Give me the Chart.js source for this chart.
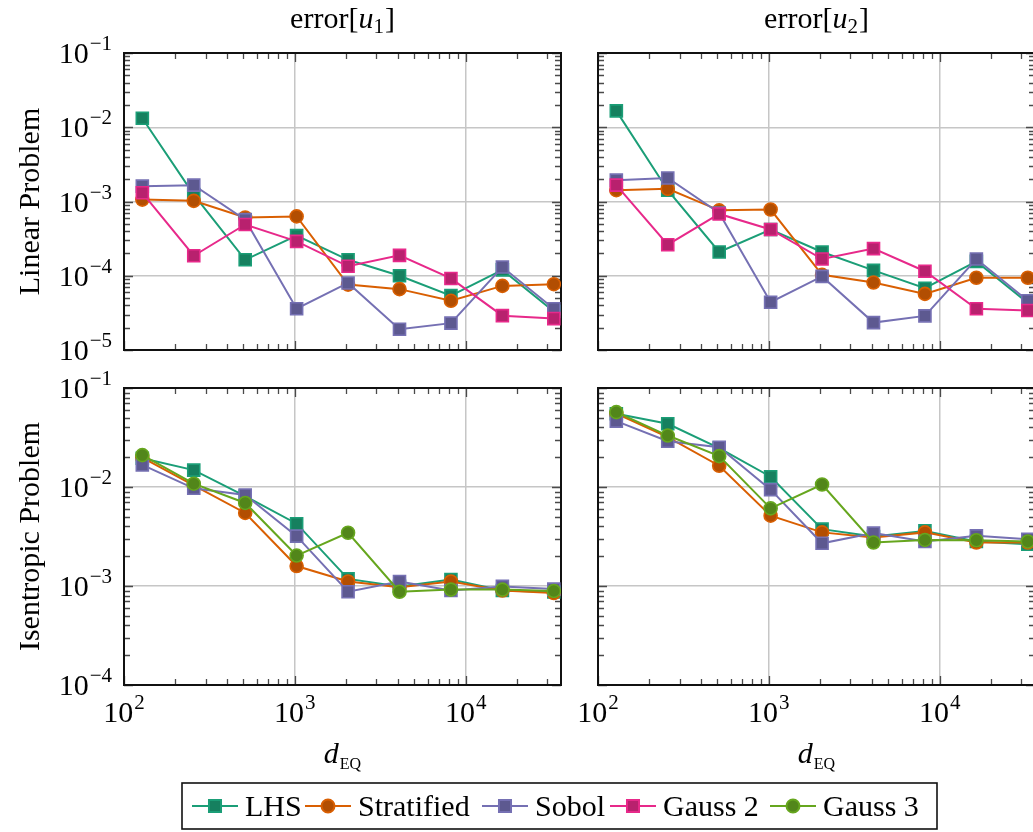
<!DOCTYPE html>
<html>
<head>
<meta charset="utf-8">
<script src="https://cdn.jsdelivr.net/npm/chart.js@4.4.1/dist/chart.umd.min.js"></script>
<style>
  html, body { margin: 0; padding: 0; background: #fff; overflow: hidden; }
  #wrap { position: relative; width: 1040px; height: 832px; }
  #wrap canvas { position: absolute; left: 0; top: 0; width: 1040px; height: 832px; }
</style>
</head>
<body>
<div id="wrap">
<canvas id="c0" width="1040" height="832"></canvas>
<canvas id="c1" width="1040" height="832"></canvas>
<canvas id="c2" width="1040" height="832"></canvas>
<canvas id="c3" width="1040" height="832"></canvas>
</div>
<script>
// number of equations d_EQ (x axis)
const dEq = [128, 256, 512, 1024, 2048, 4096, 8192, 16384, 32768];

// Linear problem, error[u1]
const lhsLinU1 = [1.32e-2, 1.24e-3, 1.64e-4, 3.47e-4, 1.64e-4, 1.0e-4, 5.4e-5, 1.2e-4, 3.3e-5];
const stratLinU1 = [1.06e-3, 1.02e-3, 6.1e-4, 6.3e-4, 7.6e-5, 6.6e-5, 4.6e-5, 7.3e-5, 7.7e-5];
const sobolLinU1 = [1.61e-3, 1.66e-3, 5.7e-4, 3.6e-5, 8.0e-5, 1.9e-5, 2.3e-5, 1.31e-4, 3.6e-5];
const gauss2LinU1 = [1.31e-3, 1.86e-4, 4.9e-4, 2.9e-4, 1.34e-4, 1.88e-4, 9.2e-5, 2.9e-5, 2.65e-5];

// Linear problem, error[u2]
const lhsLinU2 = [1.66e-2, 1.42e-3, 2.09e-4, 4.2e-4, 2.09e-4, 1.18e-4, 6.8e-5, 1.56e-4, 4.3e-5];
const stratLinU2 = [1.42e-3, 1.48e-3, 7.6e-4, 7.8e-4, 1.03e-4, 8.1e-5, 5.7e-5, 9.4e-5, 9.4e-5];
const sobolLinU2 = [1.94e-3, 2.07e-3, 7.0e-4, 4.4e-5, 9.8e-5, 2.34e-5, 2.88e-5, 1.68e-4, 4.6e-5];
const gauss2LinU2 = [1.66e-3, 2.62e-4, 6.8e-4, 4.2e-4, 1.68e-4, 2.32e-4, 1.15e-4, 3.6e-5, 3.4e-5];

// Isentropic problem, error[u1]
const lhsIseU1 = [1.95e-2, 1.48e-2, 8.1e-3, 4.26e-3, 1.18e-3, 9.9e-4, 1.16e-3, 9.0e-4, 8.7e-4];
const stratIseU1 = [1.98e-2, 1.04e-2, 5.47e-3, 1.59e-3, 1.11e-3, 9.7e-4, 1.11e-3, 9.0e-4, 8.5e-4];
const sobolIseU1 = [1.67e-2, 9.7e-3, 8.3e-3, 3.19e-3, 8.75e-4, 1.11e-3, 9.0e-4, 9.9e-4, 9.3e-4];
const gauss3IseU1 = [2.1e-2, 1.08e-2, 6.9e-3, 2.03e-3, 3.45e-3, 8.75e-4, 9.2e-4, 9.2e-4, 8.9e-4];

// Isentropic problem, error[u2]
const lhsIseU2 = [5.5e-2, 4.35e-2, 2.47e-2, 1.27e-2, 3.75e-3, 3.16e-3, 3.6e-3, 2.82e-3, 2.64e-3];
const stratIseU2 = [5.5e-2, 3.19e-2, 1.64e-2, 5.13e-3, 3.48e-3, 3.09e-3, 3.48e-3, 2.75e-3, 2.75e-3];
const sobolIseU2 = [4.63e-2, 2.9e-2, 2.52e-2, 9.4e-3, 2.7e-3, 3.42e-3, 2.82e-3, 3.21e-3, 2.97e-3];
const gauss3IseU2 = [5.7e-2, 3.31e-2, 2.05e-2, 6.08e-3, 1.06e-2, 2.75e-3, 2.92e-3, 2.9e-3, 2.82e-3];

const xRange = [100, 36100];
const yRangeLinear = [1e-5, 1e-1];
const yRangeIsentropic = [1e-4, 1e-1];

const legendNames = ["LHS", "Stratified", "Sobol", "Gauss 2", "Gauss 3"];

const seriesStyles = {
  "LHS": { color: "#1b9e77", fill: "#16805f", shape: "rect" },
  "Stratified": { color: "#d95f02", fill: "#b24e02", shape: "circle" },
  "Sobol": { color: "#7570b3", fill: "#5d5990", shape: "rect" },
  "Gauss 2": { color: "#e7298a", fill: "#b8216e", shape: "rect" },
  "Gauss 3": { color: "#66a61e", fill: "#52861a", shape: "circle" },
};

const fontFamily = '"Liberation Serif", "Times New Roman", serif';
const gridColor = "#c6c6c6";
const canvasW = 1040;
const canvasH = 832;

function isMajor(v) {
  const l = Math.log10(v);
  return Math.abs(l - Math.round(l)) < 1e-6;
}

function logTicks(min, max) {
  const out = [];
  for (let e = Math.floor(Math.log10(min)); e <= Math.ceil(Math.log10(max)); e++) {
    for (let m = 1; m < 10; m++) {
      const v = m * Math.pow(10, e);
      if (v >= min * 0.9999 && v <= max * 1.0001) out.push(v);
    }
  }
  return out;
}

function drawRich(ctx, parts, x, baseline, align) {
  let total = 0;
  parts.forEach((p) => { ctx.font = p.font; p.w = ctx.measureText(p.text).width; total += p.w + (p.gap || 0); });
  let cx = align === "right" ? x - total : x - total / 2;
  ctx.textAlign = "left";
  ctx.textBaseline = "alphabetic";
  parts.forEach((p) => {
    ctx.font = p.font;
    ctx.fillText(p.text, cx + (p.gap || 0), baseline + (p.dy || 0));
    cx += p.w + (p.gap || 0);
  });
}

function powerParts(exp) {
  const sup = exp < 0 ? "\u2212" + (-exp) : String(exp);
  return [
    { text: "10", font: `30px ${fontFamily}` },
    { text: sup, font: `21px ${fontFamily}`, dy: -13, gap: 1 },
  ];
}

// frame and inward ticks, drawn under the data
const frameTicks = {
  id: "frameTicks",
  beforeDatasetsDraw(chart) {
    const { ctx, chartArea: a, scales: { x, y } } = chart;
    ctx.save();
    ctx.strokeStyle = "#4a4a4a";
    ctx.lineWidth = 1.3;
    ctx.beginPath();
    x.ticks.forEach((t) => {
      const px = Math.round(x.getPixelForValue(t.value)) + 0.5;
      const len = isMajor(t.value) ? 9 : 6;
      ctx.moveTo(px, a.top); ctx.lineTo(px, a.top + len);
      ctx.moveTo(px, a.bottom); ctx.lineTo(px, a.bottom - len);
    });
    y.ticks.forEach((t) => {
      const py = Math.round(y.getPixelForValue(t.value)) + 0.5;
      const len = isMajor(t.value) ? 9 : 6;
      ctx.moveTo(a.left, py); ctx.lineTo(a.left + len, py);
      ctx.moveTo(a.right, py); ctx.lineTo(a.right - len, py);
    });
    ctx.stroke();
    ctx.strokeStyle = "#111";
    ctx.lineWidth = 2;
    ctx.strokeRect(a.left, a.top, a.right - a.left, a.bottom - a.top);
    ctx.restore();
  },
};

// tick labels and titles
const panelText = {
  id: "panelText",
  afterDraw(chart, args, opts) {
    const { ctx, chartArea: a, scales: { x, y } } = chart;
    const cx = (a.left + a.right) / 2;
    ctx.save();
    ctx.fillStyle = "#000";
    if (opts.yLabels) {
      y.ticks.filter((t) => isMajor(t.value)).forEach((t) => {
        const py = y.getPixelForValue(t.value);
        drawRich(ctx, powerParts(Math.round(Math.log10(t.value))), a.left - 12, py + 10, "right");
      });
    }
    if (opts.xLabels) {
      x.ticks.filter((t) => isMajor(t.value)).forEach((t) => {
        const px = x.getPixelForValue(t.value);
        drawRich(ctx, powerParts(Math.round(Math.log10(t.value))), px, a.bottom + 37, "center");
      });
      drawRich(ctx, [
        { text: "d", font: `italic 30px ${fontFamily}` },
        { text: "EQ", font: `16px ${fontFamily}`, dy: 6, gap: 1 },
      ], cx, a.bottom + 78, "center");
    }
    if (opts.title) {
      drawRich(ctx, [
        { text: "error[", font: `30px ${fontFamily}` },
        { text: "u", font: `italic 30px ${fontFamily}` },
        { text: opts.title, font: `21px ${fontFamily}`, dy: 5 },
        { text: "]", font: `30px ${fontFamily}`, gap: 1 },
      ], cx, 28, "center");
    }
    if (opts.yTitle) {
      ctx.translate(31, (a.top + a.bottom) / 2);
      ctx.rotate(-Math.PI / 2);
      ctx.font = `30px ${fontFamily}`;
      ctx.textAlign = "center";
      ctx.textBaseline = "middle";
      ctx.fillText(opts.yTitle, 0, 0);
    }
    ctx.restore();
  },
};

// legend box below the panels
const legendBox = {
  id: "legendBox",
  afterDraw(chart) {
    const { ctx } = chart;
    const box = { left: 182, top: 783, right: 937, bottom: 829 };
    const sampleX = [192, 305, 482, 610, 770];
    const midY = (box.top + box.bottom) / 2;
    ctx.save();
    ctx.fillStyle = "#fff";
    ctx.fillRect(box.left, box.top, box.right - box.left, box.bottom - box.top);
    ctx.strokeStyle = "#111";
    ctx.lineWidth = 1.6;
    ctx.strokeRect(box.left, box.top, box.right - box.left, box.bottom - box.top);
    legendNames.forEach((name, i) => {
      const s = seriesStyles[name];
      const x0 = sampleX[i];
      ctx.strokeStyle = s.color;
      ctx.lineWidth = 2;
      ctx.beginPath();
      ctx.moveTo(x0, midY);
      ctx.lineTo(x0 + 46, midY);
      ctx.stroke();
      ctx.fillStyle = s.fill;
      ctx.strokeStyle = s.color;
      Chart.helpers.drawPoint(ctx, {
        pointStyle: s.shape,
        radius: s.shape === "rect" ? 8.5 : 6.5,
        borderWidth: 1.6,
        rotation: 0,
      }, x0 + 23, midY);
      ctx.fillStyle = "#000";
      ctx.font = `30px ${fontFamily}`;
      ctx.textAlign = "left";
      ctx.textBaseline = "alphabetic";
      ctx.fillText(name, x0 + 53, midY + 10);
    });
    ctx.restore();
  },
};

function makeDataset(name, values, idx) {
  const s = seriesStyles[name];
  return {
    label: name,
    data: values.map((v, i) => ({ x: dEq[i], y: v })),
    borderColor: s.color,
    backgroundColor: s.fill,
    borderWidth: 2,
    pointStyle: s.shape,
    pointRadius: s.shape === "rect" ? 8.5 : 6.5,
    pointBorderColor: s.color,
    pointBackgroundColor: s.fill,
    pointBorderWidth: 1.6,
    tension: 0,
    fill: false,
    order: 10 - idx,
  };
}

function logAxis(range) {
  return {
    type: "logarithmic",
    min: range[0],
    max: range[1],
    afterBuildTicks: (scale) => {
      scale.ticks = logTicks(range[0], range[1]).map((v) => ({ value: v }));
    },
    ticks: { display: false },
    border: { display: false },
    grid: {
      drawTicks: false,
      lineWidth: 1.5,
      color: (c) => (c.tick && isMajor(c.tick.value) ? gridColor : "rgba(0,0,0,0)"),
    },
  };
}

const panels = [
  { id: "c0", left: 124, top: 53, bottom: 350, yRange: yRangeLinear,
    names: ["LHS", "Stratified", "Sobol", "Gauss 2"],
    series: [lhsLinU1, stratLinU1, sobolLinU1, gauss2LinU1],
    text: { title: "1", yTitle: "Linear Problem", yLabels: true } },
  { id: "c1", left: 598, top: 53, bottom: 350, yRange: yRangeLinear,
    names: ["LHS", "Stratified", "Sobol", "Gauss 2"],
    series: [lhsLinU2, stratLinU2, sobolLinU2, gauss2LinU2],
    text: { title: "2" } },
  { id: "c2", left: 124, top: 388, bottom: 685, yRange: yRangeIsentropic,
    names: ["LHS", "Stratified", "Sobol", "Gauss 3"],
    series: [lhsIseU1, stratIseU1, sobolIseU1, gauss3IseU1],
    text: { yTitle: "Isentropic Problem", yLabels: true, xLabels: true } },
  { id: "c3", left: 598, top: 388, bottom: 685, yRange: yRangeIsentropic,
    names: ["LHS", "Stratified", "Sobol", "Gauss 3"],
    series: [lhsIseU2, stratIseU2, sobolIseU2, gauss3IseU2],
    text: { xLabels: true } },
];

const panelWidth = 437;

panels.forEach((p, k) => {
  const canvas = document.getElementById(p.id);
  new Chart(canvas.getContext("2d"), {
    type: "line",
    data: { datasets: p.names.map((n, i) => makeDataset(n, p.series[i], i)) },
    options: {
      responsive: false,
      animation: false,
      devicePixelRatio: 1,
      layout: {
        // no auto padding: right-hand panels run past the page edge
        autoPadding: false,
        padding: {
          left: p.left,
          top: p.top,
          right: canvasW - p.left - panelWidth,
          bottom: canvasH - p.bottom,
        },
      },
      scales: { x: logAxis(xRange), y: logAxis(p.yRange) },
      plugins: {
        legend: { display: false },
        tooltip: { enabled: false },
        panelText: p.text,
      },
    },
    plugins: k === 3 ? [frameTicks, panelText, legendBox] : [frameTicks, panelText],
  });
});
</script>
</body>
</html>
